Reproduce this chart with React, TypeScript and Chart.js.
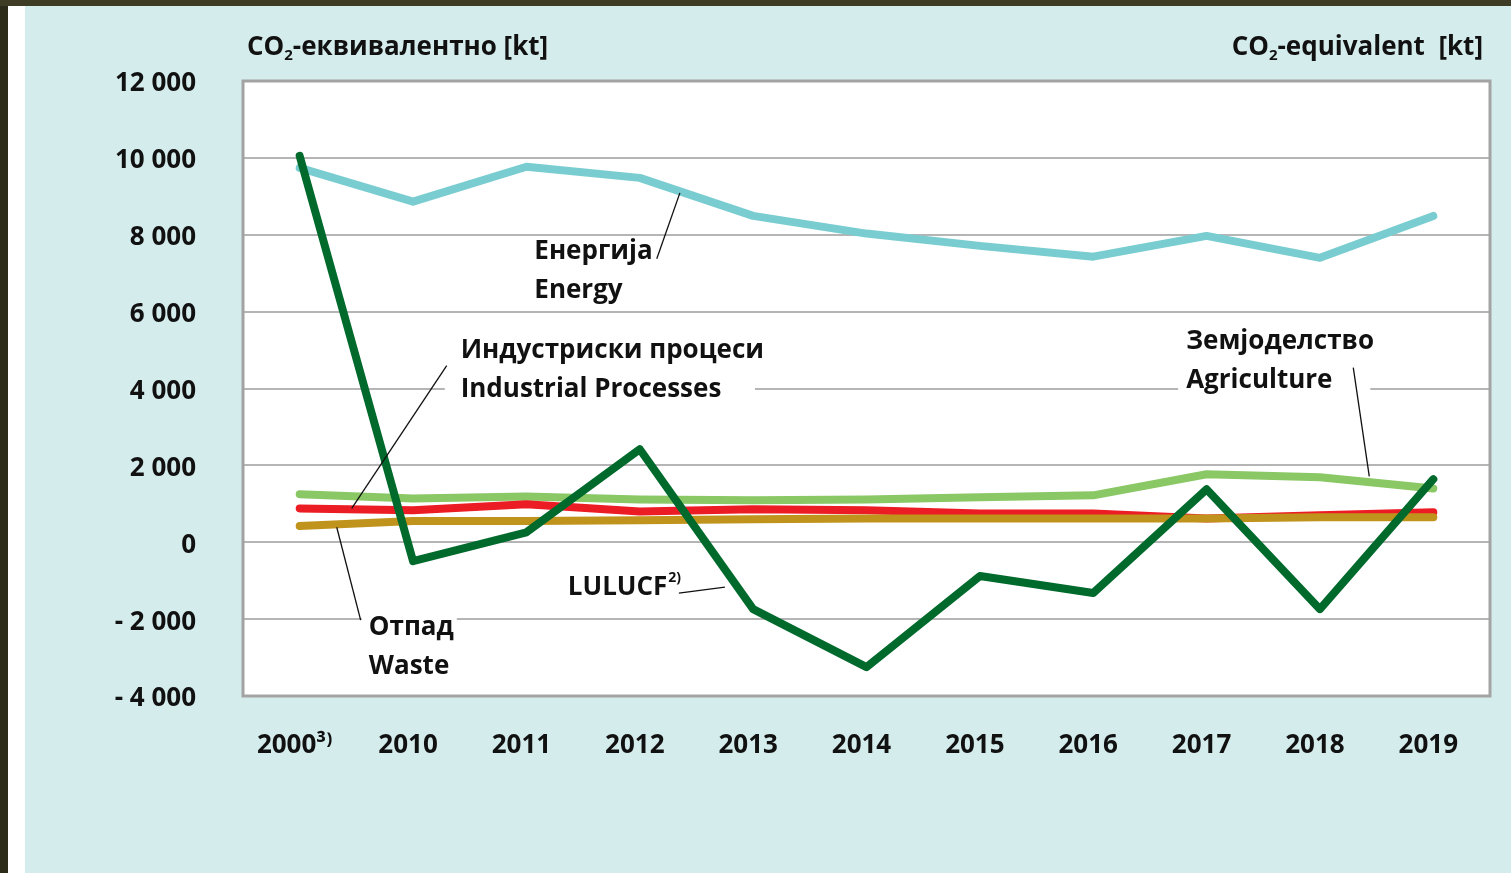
import React, { useEffect, useRef } from "react";
import { Chart, registerables } from "chart.js";

Chart.register(...registerables);

const categories = ["2000³⁾", "2010", "2011", "2012", "2013", "2014", "2015", "2016", "2017", "2018", "2019"];
const energy = [9740, 8860, 9770, 9480, 8490, 8030, 7710, 7430, 7970, 7400, 8490];
const lulucf = [10050, -490, 260, 2420, -1740, -3250, -880, -1320, 1380, -1740, 1640];
const agriculture = [1250, 1140, 1190, 1110, 1090, 1110, 1170, 1220, 1770, 1690, 1400];
const industrial = [880, 830, 990, 800, 860, 830, 750, 750, 620, 700, 780];
const waste = [420, 550, 550, 570, 600, 620, 620, 620, 620, 650, 650];
const yTicks = [-4000, -2000, 0, 2000, 4000, 6000, 8000, 10000, 12000];

const FONT = "'Open Sans', 'DejaVu Sans', sans-serif";
const TEXT = "#111111";
const W = 700;

// annotation labels in data units (category index, value)
const labels = [
  { lines: ["Енергија", "Energy"], x: 2.07, y: 7557, lead: [[3.15, 7376], [3.354, 9090]], box: null },
  { lines: ["Индустриски процеси", "Industrial Processes"], x: 1.42, y: 4986, lead: [[1.297, 4597], [0.459, 883]], box: [1.28, 4.016, 5400, 3600] },
  { lines: ["Земјоделство", "Agriculture"], x: 7.82, y: 5220, lead: [[9.294, 4545], [9.435, 1714]], box: [7.749, 9.444, 5600, 3650] },
  { lines: ["Отпад", "Waste"], x: 0.61, y: -2233, lead: [[0.538, -2026], [0.327, 390]], box: [0.547, 1.386, -1714, -3800] },
];
const lulucfLabel = { x: 2.365, y: -1169, lead: [[3.345, -1324], [3.751, -1169]] };

function fmt(v: number) {
  const a = Math.abs(v);
  const s = a >= 1000 ? Math.floor(a / 1000) + " " + String(a % 1000).padStart(3, "0") : String(a);
  return v < 0 ? "- " + s : s;
}

export default function App() {
  const ref = useRef<HTMLCanvasElement | null>(null);
  useEffect(() => {
    document.body.style.margin = "0";
    const canvas = ref.current!;
    const px = (chart: any, xi: number) => {
      const xs = chart.scales.x;
      const p0 = xs.getPixelForValue(0);
      const p1 = xs.getPixelForValue(1);
      return p0 + (p1 - p0) * xi;
    };
    const py = (chart: any, v: number) => chart.scales.y.getPixelForValue(v);

    const deco = {
      id: "deco",
      beforeDraw(chart: any) {
        const { ctx, chartArea: a } = chart;
        ctx.save();
        ctx.fillStyle = "#ffffff";
        ctx.fillRect(a.left, a.top, a.right - a.left, a.bottom - a.top);
        ctx.restore();
      },
      beforeDatasetsDraw(chart: any) {
        const { ctx, chartArea: a } = chart;
        ctx.save();
        ctx.strokeStyle = "#a3a3a3";
        ctx.lineWidth = 3;
        ctx.strokeRect(a.left, a.top, a.right - a.left, a.bottom - a.top);
        ctx.fillStyle = "#ffffff";
        for (const l of labels) {
          if (!l.box) continue;
          const [x0, x1, y0, y1] = l.box;
          const X0 = px(chart, x0), X1 = px(chart, x1), Y0 = py(chart, y0), Y1 = py(chart, y1);
          ctx.fillRect(X0, Y0, X1 - X0, Y1 - Y0);
        }
        ctx.restore();
      },
      afterDatasetsDraw(chart: any) {
        const { ctx, chartArea: a } = chart;
        ctx.save();
        ctx.fillStyle = TEXT;
        ctx.textBaseline = "middle";
        ctx.textAlign = "left";
        ctx.font = `${W} 26px ${FONT}`;
        const lineGap = 39;
        const drawLead = (pts: number[][]) => {
          ctx.strokeStyle = "#111111";
          ctx.lineWidth = 1.3;
          ctx.beginPath();
          ctx.moveTo(px(chart, pts[0][0]), py(chart, pts[0][1]));
          ctx.lineTo(px(chart, pts[1][0]), py(chart, pts[1][1]));
          ctx.stroke();
        };
        for (const l of labels) {
          const X = px(chart, l.x), Y = py(chart, l.y);
          l.lines.forEach((t, i) => ctx.fillText(t, X, Y + i * lineGap));
          drawLead(l.lead);
        }
        // LULUCF with superscript
        {
          const X = px(chart, lulucfLabel.x), Y = py(chart, lulucfLabel.y);
          ctx.font = `${W} 26px ${FONT}`;
          ctx.fillText("LULUCF", X, Y);
          const w = ctx.measureText("LULUCF").width;
          ctx.font = `${W} 14px ${FONT}`;
          ctx.fillText("2)", X + w + 1, Y - 9);
          drawLead(lulucfLabel.lead);
        }
        // axis titles
        const drawCO2 = (rest: string, x: number, y: number, align: "left" | "right") => {
          ctx.font = `${W} 26px ${FONT}`;
          const wCO = ctx.measureText("CO").width;
          const wRest = ctx.measureText(rest).width;
          ctx.font = `${W} 15px ${FONT}`;
          const w2 = ctx.measureText("2").width;
          const total = wCO + w2 + wRest;
          const start = align === "left" ? x : x - total;
          ctx.font = `${W} 26px ${FONT}`;
          ctx.fillText("CO", start, y);
          ctx.font = `${W} 15px ${FONT}`;
          ctx.fillText("2", start + wCO, y + 8);
          ctx.font = `${W} 26px ${FONT}`;
          ctx.fillText(rest, start + wCO + w2, y);
        };
        drawCO2("-еквивалентно [kt]", a.left + 4, a.top - 33, "left");
        drawCO2("-equivalent  [kt]", a.right - 7, a.top - 33, "right");
        ctx.restore();
      },
    };

    const ds = (label: string, data: number[], color: string) => ({
      label,
      data,
      borderColor: color,
      backgroundColor: color,
      borderWidth: 8,
      pointRadius: 0,
      tension: 0,
      borderCapStyle: "round" as const,
      borderJoinStyle: "round" as const,
      fill: false,
    });

    const chart = new Chart(canvas, {
      type: "line",
      data: {
        labels: categories,
        datasets: [
          ds("LULUCF", lulucf, "#006a2c"),
          ds("Waste", waste, "#c0931c"),
          ds("Industrial Processes", industrial, "#ec1c24"),
          ds("Agriculture", agriculture, "#8ac765"),
          ds("Energy", energy, "#79cdd0"),
        ],
      },
      options: {
        responsive: false,
        animation: false,
        events: [],
        layout: { padding: { top: 75, right: 21, left: 0, bottom: 0 } },
        plugins: { legend: { display: false }, tooltip: { enabled: false } },
        scales: {
          x: {
            offset: true,
            grid: { display: false, drawTicks: false },
            border: { display: false },
            ticks: { color: TEXT, font: { family: FONT, size: 26, weight: W }, padding: 34, labelOffset: -5, maxRotation: 0, autoSkip: false },
            afterFit(scale: any) { scale.height = 177; },
          },
          y: {
            min: -4000,
            max: 12000,
            afterBuildTicks(scale: any) { scale.ticks = yTicks.map((v) => ({ value: v })); },
            grid: { color: "#b5b5b5", lineWidth: 2, drawTicks: false },
            border: { display: false },
            ticks: { color: TEXT, font: { family: FONT, size: 26, weight: W }, padding: 47, labelOffset: 3, callback: (v: any) => fmt(Number(v)) },
            afterFit(scale: any) { scale.width = 218; },
          },
        },
      },
      plugins: [deco],
    });
    return () => chart.destroy();
  }, []);

  return (
    <div style={{ position: "fixed", left: 0, top: 0, width: 1511, height: 873, background: "#2c2a18", overflow: "hidden" }}>
      <div style={{ position: "absolute", left: 0, top: 0, width: 1511, height: 6, background: "#3e3c24" }} />
      <div style={{ position: "absolute", left: 8, top: 6, width: 17, height: 867, background: "#ffffff" }} />
      <div style={{ position: "absolute", left: 25, top: 6, width: 1486, height: 867, background: "#d5ecec" }}>
        <canvas ref={ref} width={1486} height={867} style={{ display: "block", width: 1486, height: 867 }} />
      </div>
    </div>
  );
}
